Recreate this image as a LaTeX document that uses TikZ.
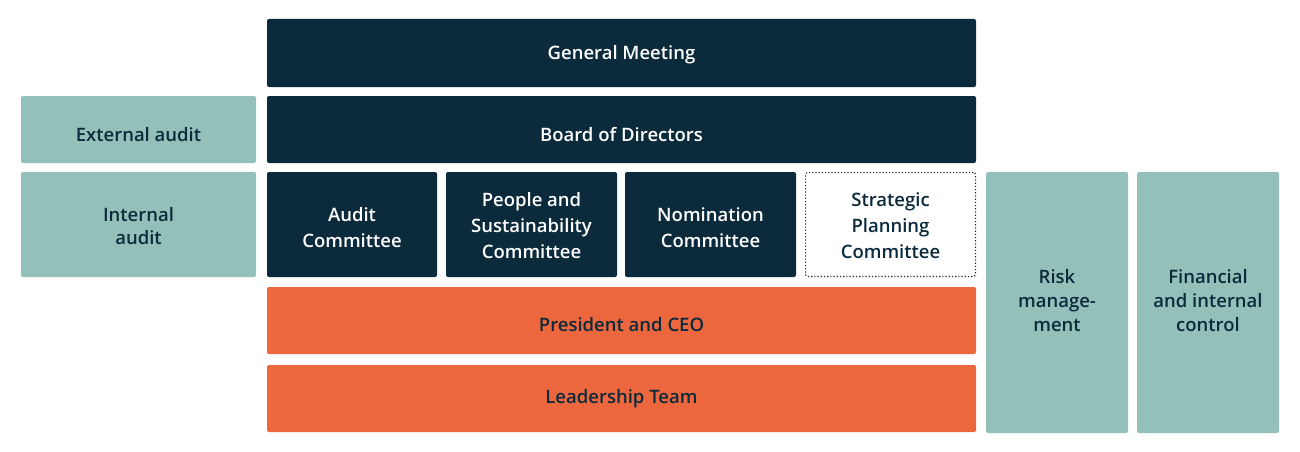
\documentclass[tikz,border=0pt]{standalone}
\usepackage{fontspec}
\IfFontExistsTF{Open Sans SemiBold}{\setmainfont{Open Sans SemiBold}}{%
  \IfFontExistsTF{Open Sans Semibold}{\setmainfont{Open Sans Semibold}}{%
    \IfFontExistsTF{OpenSans-SemiBold}{\setmainfont{OpenSans-SemiBold}}{%
      \setmainfont{Open Sans}[FakeBold=3]}}}
\definecolor{navy}{HTML}{0B2A3C}
\definecolor{teal}{HTML}{93C0B9}
\definecolor{orng}{HTML}{EC673D}
\tikzset{
  blk/.style={anchor=north west, inner sep=0pt, outer sep=0pt, rounded corners=2pt},
  txt/.style={inner sep=0pt, align=center, font=\fontsize{18.5}{26}\selectfont},
  dark/.style={blk, fill=navy},
  side/.style={blk, fill=teal},
  ceo/.style={blk, fill=orng},
  dotbox/.style={blk, fill=white, draw=navy, line width=1.2pt, dotted},
  ontxt/.style={txt, text=white},
  ltxt/.style={txt, text=navy},
}
% name, x1, y1, x2, y2, box style, text style, yshift, text
\newcommand{\bx}[9]{%
  \pgfmathsetmacro{\bw}{#4-#2}\pgfmathsetmacro{\bh}{#5-#3}%
  \node[#6, minimum width=\bw pt, minimum height=\bh pt] (#1) at (#2pt,-#3pt) {};
  \node[#7] (#1-t) at ([yshift=#8]#1.center) {#9};}
\begin{document}
\begin{tikzpicture}
\useasboundingbox (0,0) rectangle (1300pt,-452pt);
\bx{gm}{267}{19}{976}{87}{dark}{ontxt}{-2pt}{General Meeting}
\bx{bod}{267}{96}{976}{163}{dark}{ontxt}{-5pt}{Board of Directors}
\bx{ext}{21}{96}{256}{163}{side}{ltxt}{-5pt}{External audit}
\bx{int}{21}{172}{256}{277}{side}{ltxt,font=\fontsize{18.5}{23}\selectfont}{-1.8pt}{Internal\\audit}
\bx{ac}{267}{172}{437}{277}{dark}{ontxt}{-3pt}{Audit\\Committee}
\bx{ps}{446}{172}{617}{277}{dark}{ontxt}{-1pt}{People and\\Sustainability\\Committee}
\bx{nc}{625}{172}{796}{277}{dark}{ontxt}{-3pt}{Nomination\\Committee}
\bx{sp}{805.6}{172.6}{975.4}{276.4}{dotbox}{ltxt}{-1pt}{Strategic\\Planning\\Committee}
\bx{pc}{267}{287}{976}{354}{ceo}{ltxt}{-4.2pt}{President and CEO}
\bx{lt}{267}{365}{976}{432}{ceo}{ltxt}{-0.4pt}{Leadership Team}
\bx{rm}{986}{172}{1128}{433}{side}{ltxt,font=\fontsize{18.5}{24}\selectfont}{2pt}{Risk\\manage-\\ment}
\bx{fic}{1137}{172}{1279}{433}{side}{ltxt,font=\fontsize{18.5}{24}\selectfont}{2pt}{Financial\\and internal\\control}
\end{tikzpicture}
\end{document}
